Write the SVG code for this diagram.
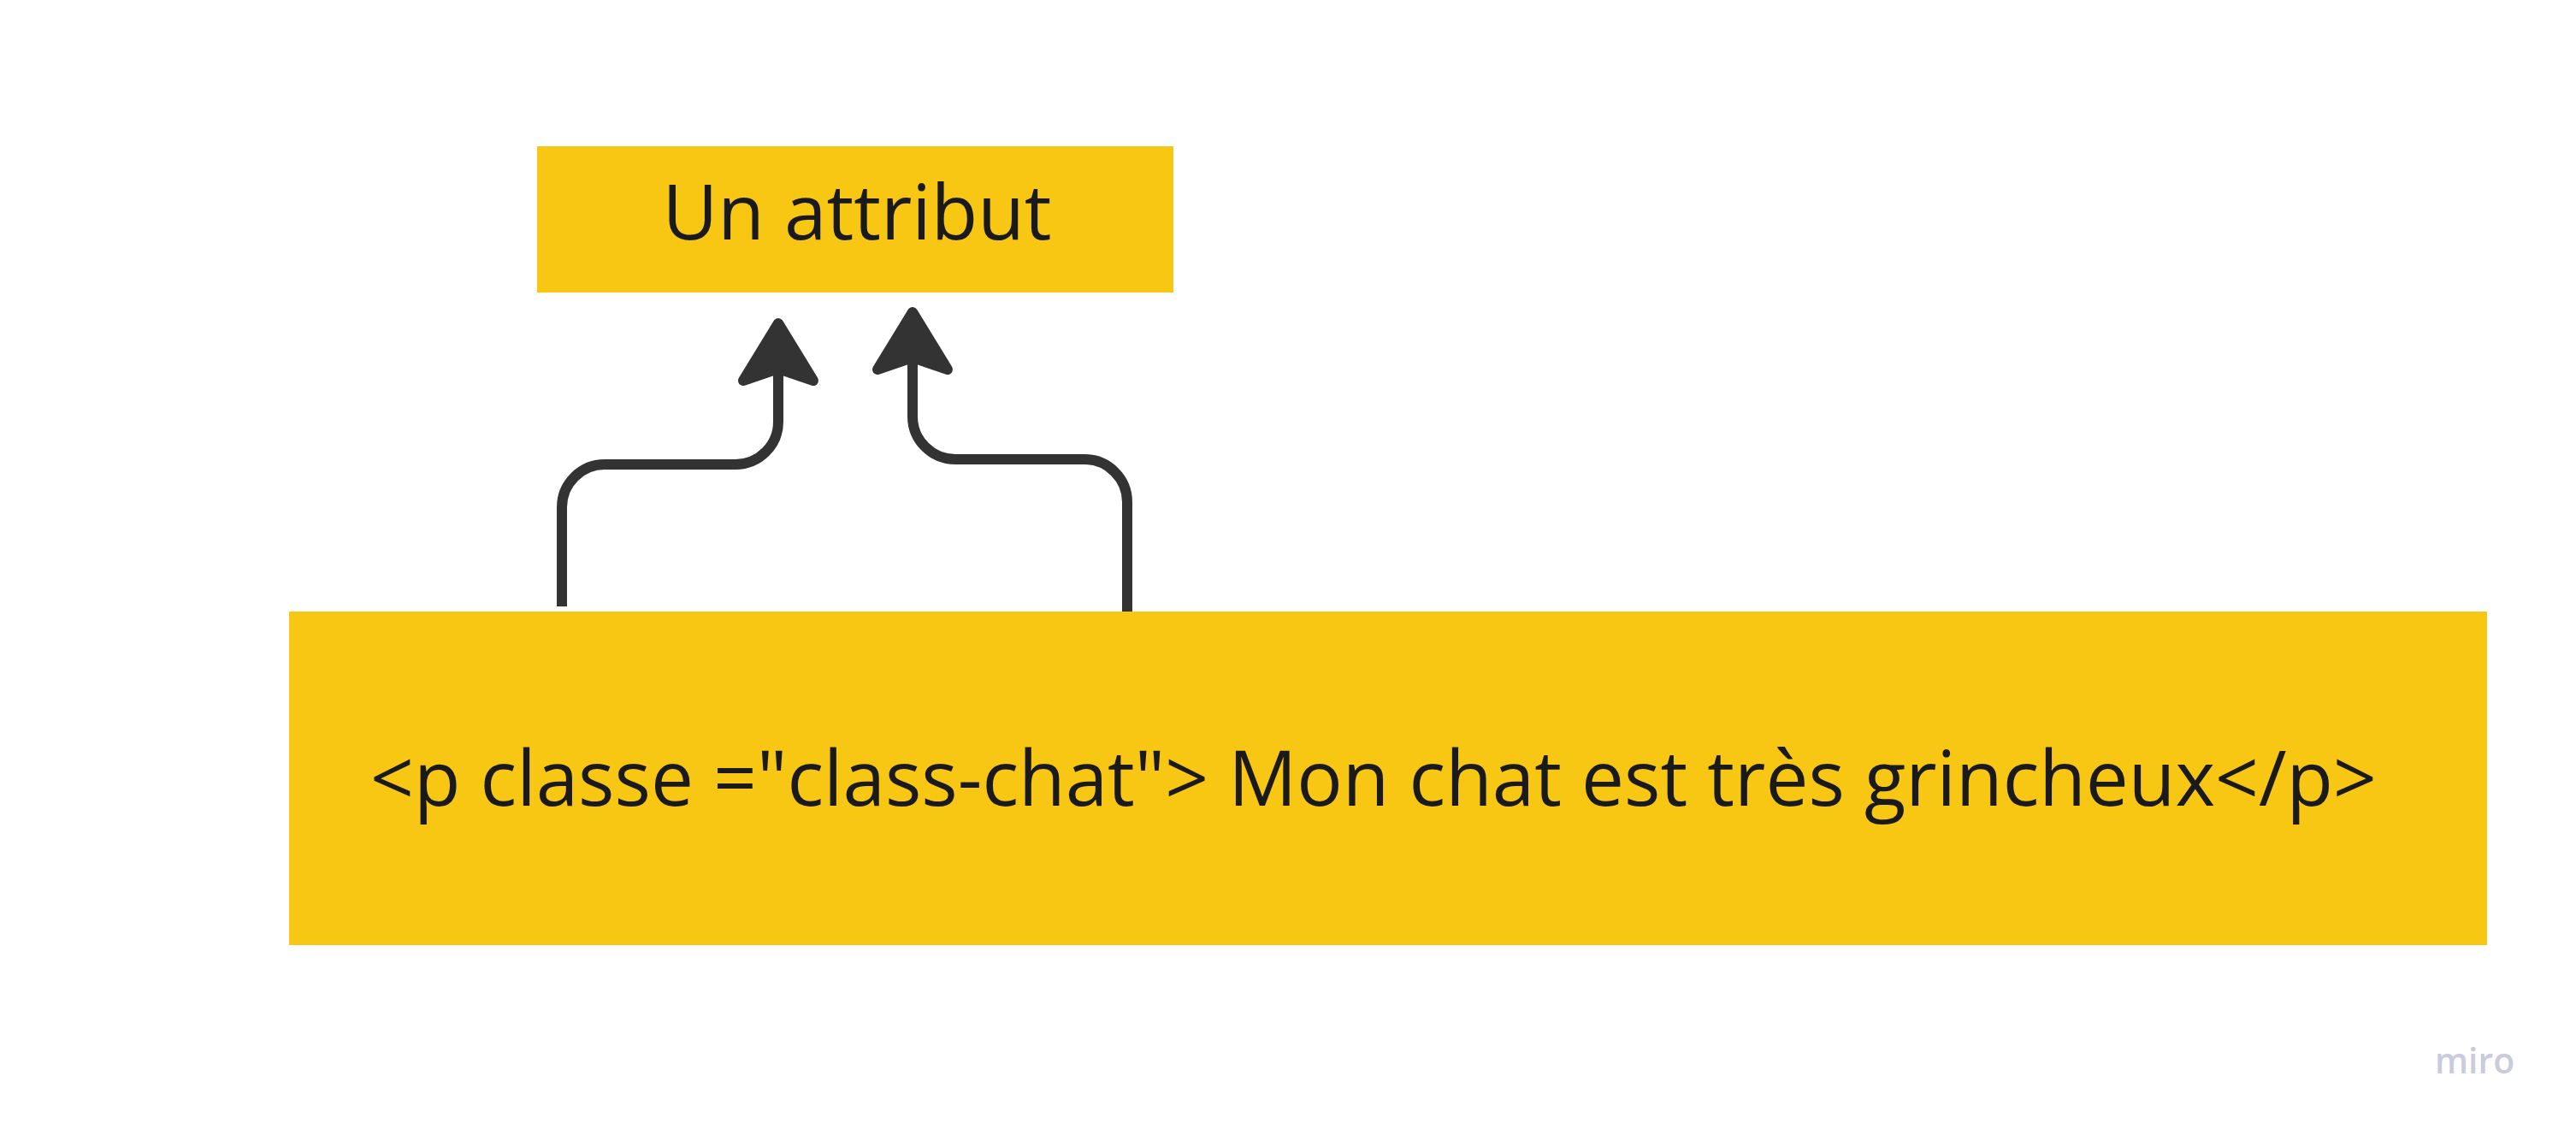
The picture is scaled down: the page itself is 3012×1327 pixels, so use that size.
<svg xmlns="http://www.w3.org/2000/svg" width="3012" height="1327" viewBox="0 0 3012 1327">
  <style>
    .box { fill: #F8C713; }
    .label { font-family: "Open Sans", "Noto Sans", "Liberation Sans", sans-serif; font-size: 89px; fill: #1a1a1a; text-anchor: middle; }
    .conn { fill: none; stroke: #333333; stroke-width: 12; stroke-linecap: butt; }
    .head { fill: #333333; stroke: #333333; stroke-width: 12; stroke-linejoin: round; }
    .logo { font-family: "Open Sans", "Noto Sans", sans-serif; font-size: 41px; font-weight: 600; fill: #cacbdb; }
  </style>
  <defs>
    <marker id="arrow" markerUnits="userSpaceOnUse" viewBox="-25 -60 100 120" markerWidth="100" markerHeight="120" refX="0" refY="0" orient="auto" overflow="visible">
      <path class="head" d="M59,0 L-8,-41 L6,0 L-8,41 Z"/>
    </marker>
  </defs>
  <rect width="3012" height="1327" fill="#ffffff"/>

  <g id="node-attribut">
    <rect class="box" x="628" y="171" width="744" height="171"/>
    <text class="label" x="1002" y="280">Un attribut</text>
  </g>

  <g id="node-paragraph">
    <rect class="box" x="338" y="715" width="2570" height="390"/>
    <text class="label" x="1606" y="942">&lt;p classe ="class-chat"&gt; Mon chat est très grincheux&lt;/p&gt;</text>
  </g>

  <g id="connectors">
    <path class="conn" marker-end="url(#arrow)" d="M657,709 L657,593 A50,50 0 0 1 707,543 L860,543 A50,50 0 0 0 910,493 L910,437"/>
    <path class="conn" marker-end="url(#arrow)" d="M1318,715 L1318,587 A50,50 0 0 0 1268,537 L1117,537 A50,50 0 0 1 1067,487 L1067,424"/>
  </g>

  <text class="logo" x="2847" y="1255">miro</text>
</svg>
